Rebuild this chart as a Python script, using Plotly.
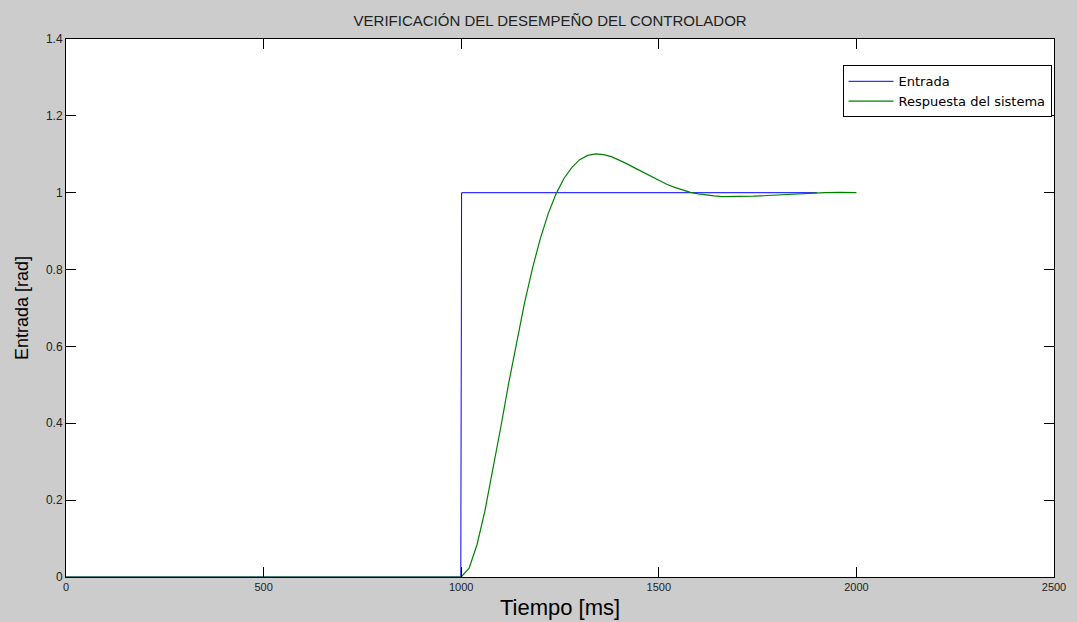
import plotly.graph_objects as go

# ---- data ----
entrada_t = [0, 999, 1000, 1001, 1900]
entrada_v = [0, 0, 0.5, 1.0, 1.0]

resp_t = [0, 1000, 1020, 1040, 1060, 1080, 1100, 1120, 1140, 1160, 1180, 1200,
          1220, 1240, 1260, 1280, 1300, 1320, 1340, 1360, 1380, 1400, 1420,
          1440, 1460, 1480, 1500, 1520, 1540, 1560, 1580, 1600, 1620, 1640,
          1660, 1680, 1700, 1720, 1740, 1760, 1780, 1800, 1840, 1880, 1920,
          1960, 2000]
resp_v = [0.0, 0.000, 0.023, 0.084, 0.172, 0.277, 0.389, 0.503, 0.612, 0.712,
          0.802, 0.880, 0.945, 0.997, 1.037, 1.066, 1.086, 1.097, 1.101, 1.099,
          1.094, 1.085, 1.075, 1.064, 1.053, 1.042, 1.031, 1.022, 1.014, 1.007,
          1.001, 0.997, 0.994, 0.992, 0.990, 0.990, 0.990, 0.990, 0.991, 0.992,
          0.993, 0.994, 0.997, 0.998, 1.000, 1.001, 1.000]

x_ticks = [0, 500, 1000, 1500, 2000, 2500]
y_ticks = [0, 0.2, 0.4, 0.6, 0.8, 1.0, 1.2, 1.4]
y_tick_text = ["0", "0.2", "0.4", "0.6", "0.8", "1", "1.2", "1.4"]

title_text = "VERIFICACIÓN DEL DESEMPEÑO DEL CONTROLADOR"
x_label = "Tiempo [ms]"
y_label = "Entrada [rad]"

FONT = "Liberation Sans, Arial, sans-serif"

fig = go.Figure()
fig.add_trace(go.Scatter(x=entrada_t, y=entrada_v, mode="lines", name="Entrada",
                         line=dict(color="rgb(0,0,255)", width=1)))
fig.add_trace(go.Scatter(x=resp_t, y=resp_v, mode="lines", name="Respuesta del sistema",
                         line=dict(color="rgb(0,128,0)", width=1.2)))

axis_common = dict(showgrid=False, zeroline=False, showline=True, linecolor="black",
                   linewidth=1, mirror="ticks", ticks="inside", ticklen=10,
                   tickcolor="black", tickwidth=1)

fig.update_layout(
    width=1077, height=622,
    paper_bgcolor="#cccccc", plot_bgcolor="white",
    margin=dict(l=66, r=23, t=39, b=45, autoexpand=False),
    font=dict(family=FONT, color="#222222"),
    title=dict(text=title_text, x=0.49, xanchor="center", xref="paper",
               y=1 - 21 / 622, yref="container", yanchor="middle",
               font=dict(size=15, color="#222222", family=FONT)),
    xaxis=dict(range=[0, 2500], tickvals=x_ticks, tickfont=dict(size=11),
               title=dict(text=x_label, font=dict(size=22, color="black"), standoff=7),
               automargin=False, **axis_common),
    yaxis=dict(range=[0, 1.4], tickvals=y_ticks, ticktext=y_tick_text,
               tickfont=dict(size=12),
               title=dict(text=y_label, font=dict(size=18, color="black"), standoff=12),
               automargin=False, **axis_common),
    legend=dict(x=0.9975, y=0.951, xanchor="right", yanchor="top",
                bgcolor="white", bordercolor="black", borderwidth=1,
                font=dict(size=13, color="black",
                          family="DejaVu Sans, Liberation Sans, sans-serif"),
                itemwidth=45, tracegroupgap=0),
    showlegend=True,
)

fig.write_html("out.html", config={"displayModeBar": False},
               post_script="document.body.style.margin='0';")
